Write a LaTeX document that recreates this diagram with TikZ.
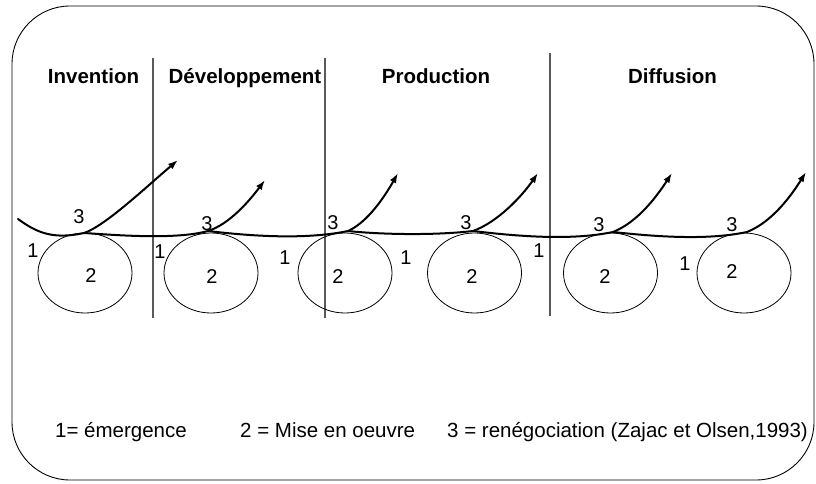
\documentclass[tikz,border=0pt]{standalone}
\usepackage{fontspec}
\setmainfont{Liberation Sans}
\usetikzlibrary{arrows.meta,shapes.geometric}

\begin{document}
\begin{tikzpicture}[x=1pt,y=-1pt,
  frame/.style={draw=black,line width=0.9pt,rounded corners=58pt},
  divider/.style={draw=black!65,line width=1.1pt},
  phase/.style={font=\bfseries\fontsize{20.5}{24}\selectfont,anchor=base,inner sep=0pt},
  legend/.style={font=\fontsize{20.5}{24}\selectfont,anchor=base west,inner sep=0pt},
  num/.style={font=\fontsize{20}{23}\selectfont,inner sep=0pt},
  stage/.style={ellipse,draw=black,line width=0.8pt,minimum width=94pt,minimum height=80pt,inner sep=0pt},
  track/.style={line width=2pt,line cap=round},
  rise/.style={track,-{Latex[length=10pt,width=7pt]}}
]
\useasboundingbox (0,0) rectangle (816,484);

% outer frame
\draw[frame] (12,6) rectangle (814,480);

% phase separators
\coordinate (v1t) at (153,58);  \coordinate (v1b) at (153,318);
\coordinate (v2t) at (325,58);  \coordinate (v2b) at (325,318);
\coordinate (v3t) at (550,53);  \coordinate (v3b) at (550,316);
\draw[divider] (v1t) -- (v1b);
\draw[divider] (v2t) -- (v2b);
\draw[divider] (v3t) -- (v3b);

% phase titles
\node[phase] (tinv)  at (93.5,84) {Invention};
\node[phase] (tdev)  at (245,84) {Développement};
\node[phase] (tprod) at (436,84) {Production};
\node[phase] (tdiff) at (672.5,84) {Diffusion};

% implementation stages
\node[stage] (e1) at (85,273) {};
\node[stage] (e2) at (211,273) {};
\node[stage] (e3) at (345,273) {};
\node[stage] (e4) at (474.5,273) {};
\node[stage] (e5) at (610.5,273) {};
\node[stage] (e6) at (744,273) {};

% renegotiation points and arrow tips
\coordinate (s0) at (18,219);
\coordinate (p1) at (84,233);  \coordinate (t1) at (178,160);
\coordinate (p2) at (208,231); \coordinate (t2) at (265,180);
\coordinate (p3) at (348,231); \coordinate (t3) at (398,173);
\coordinate (p4) at (473,231); \coordinate (t4) at (538,173);
\coordinate (p5) at (613,232); \coordinate (t5) at (672,173);
\coordinate (p6) at (747,232); \coordinate (t6) at (806,172);

% upward branches
\draw[rise] (s0) .. controls (36,232) and (52,240) .. (p1)
                 .. controls (105,226) and (145,188) .. (t1);
\draw[rise] (p2) .. controls (230,224) and (250,200) .. (t2);
\draw[rise] (p3) .. controls (368,222) and (385,196) .. (t3);
\draw[rise] (p4) .. controls (498,222) and (522,196) .. (t4);
\draw[rise] (p5) .. controls (638,222) and (657,196) .. (t5);
\draw[rise] (p6) .. controls (772,222) and (791,196) .. (t6);

% linking track between stages
\draw[track] (p1) .. controls (115,235) and (175,240) .. (p2);
\draw[track] (p2) .. controls (250,236) and (305,240) .. (p3);
\draw[track] (p3) .. controls (375,234) and (430,236) .. (p4);
\draw[track] (p4) .. controls (515,236) and (570,241) .. (p5);
\draw[track] (p5) .. controls (650,236) and (705,241) .. (p6);

% stage labels
\foreach \n/\x/\y in {a/33/251,b/160/252,c/285/258,d/406/258,e/539/251,f/685/264}
  \node[num] (one\n) at (\x,\y) {1};
\foreach \n/\x/\y in {a/91/276,b/212/277,c/338/277,d/472/277,e/605/277,f/732/272}
  \node[num] (two\n) at (\x,\y) {2};
\foreach \n/\x/\y in {a/79/217,b/207/224,c/333/223,d/466/223,e/599/225,f/732/225}
  \node[num] (three\n) at (\x,\y) {3};

% legend
\node[legend] (lg1) at (55,437) {1= émergence};
\node[legend] (lg2) at (240,437) {2 = Mise en oeuvre};
\node[legend] (lg3) at (447,437) {3 = renégociation (Zajac et Olsen,1993)};
\end{tikzpicture}
\end{document}
